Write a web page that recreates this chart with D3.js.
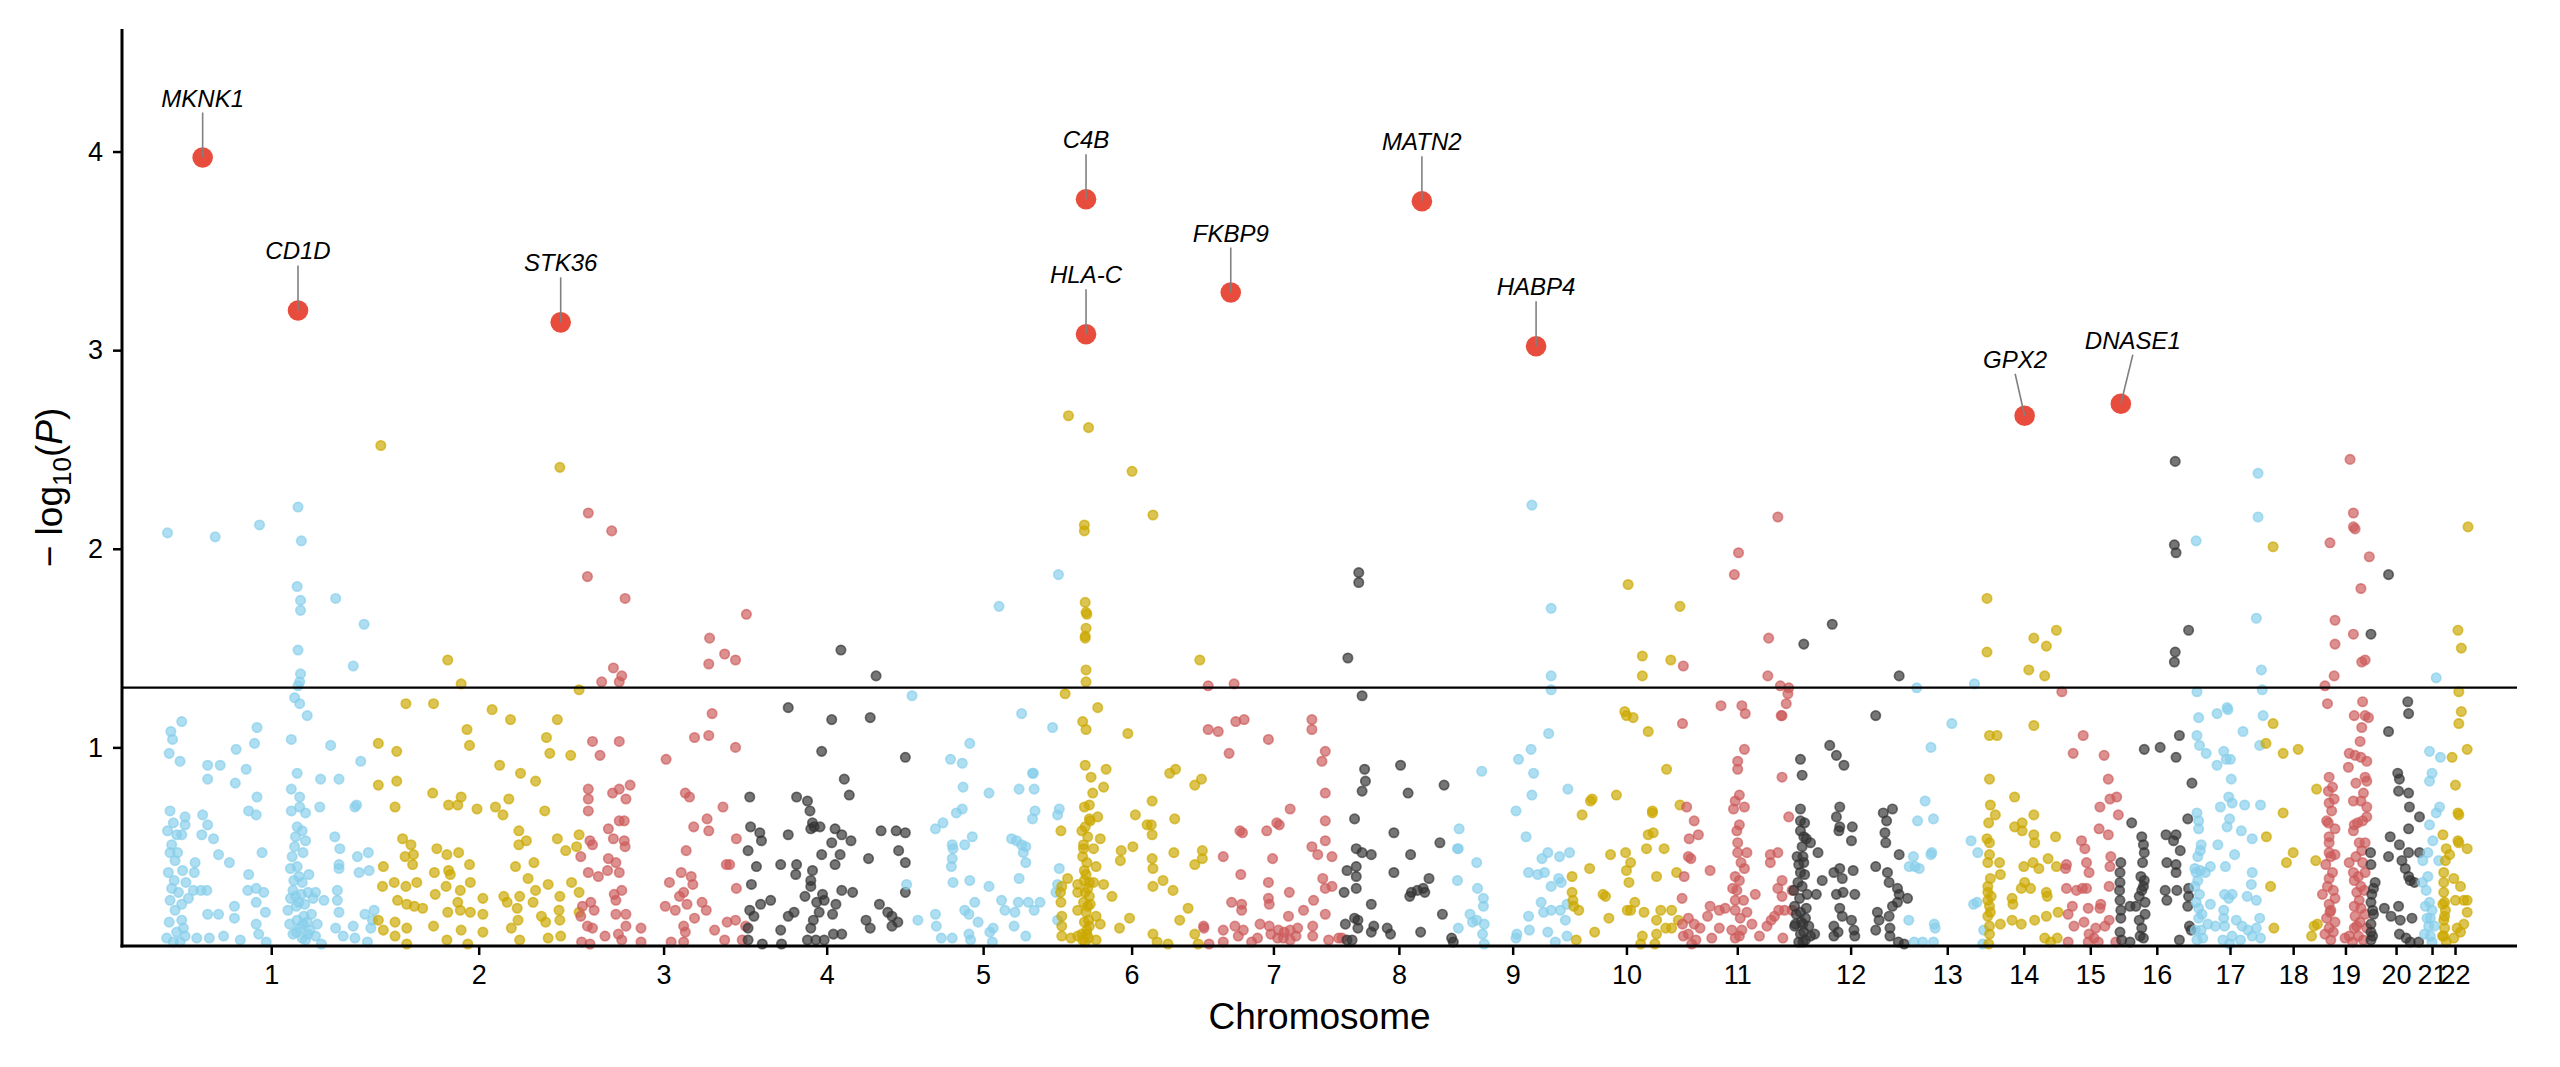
<!DOCTYPE html>
<html>
<head>
<meta charset="utf-8">
<script src="https://cdn.jsdelivr.net/npm/d3@7"></script>
<style>
body { margin: 0; background: #fff; }
text { font-family: "Liberation Sans", Arial, Helvetica, sans-serif; }
</style>
</head>
<body>
<svg id="chart" width="2560" height="1067"></svg>
<script>
// chromosome names and plotted span (Mb)
var chrNames = ["1","2","3","4","5","6","7","8","9","10","11","12","13","14","15","16","17","18","19","20","21","22"];
var chrLength = [254, 242, 200, 190, 184, 171, 168, 132, 140, 132, 133, 138, 93, 90, 69, 90, 85, 66, 59, 62, 24, 31];

// [position in chromosome (Mb), -log10(P)]
var chr1 = [[3,2.08],[60,2.06],[113,2.12],[159,2.21],[163,2.04],
[158,1.81],[162,1.74],[162,1.69],[204,1.75],[238,1.62],[159,1.49],[225,1.41],[162,1.37],[161,1.33],[159,1.31],[155,1.25],[161,1.22],[170,1.16],
[20,1.13],[7,1.08],[9,1.04],[5,0.97],[18,0.93],[110,1.10],[107,1.02],[85,0.99],[51,0.91],[66,0.91],[97,0.89],[51,0.84],[84,0.82],[110,0.75],[151,1.04],[198,1.01],[234,0.93],[158,0.87],[186,0.84],[208,0.84],[151,0.79],[161,0.75],[229,0.71],[227,0.70],
[6,0.68],[24,0.65],[45,0.66],[51,0.61],[100,0.68],[109,0.66],[151,0.68],[161,0.70],[168,0.67],[185,0.70],[158,0.60],[24,0.61],[20,0.56],[44,0.56],[58,0.54],[8,0.51],[6,0.47],[15,0.47],[12,0.43],[21,0.38],[36,0.42],[35,0.37],[64,0.46],[77,0.42],[116,0.47],[100,0.36],[155,0.50],[168,0.53],[165,0.47],[203,0.55],[209,0.49],[230,0.45],[243,0.47],[208,0.41],[208,0.39],[232,0.37],[244,0.38],[150,0.39],[158,0.40],
[8,0.29],[6,0.23],[20,0.21],[34,0.28],[43,0.28],[50,0.28],[99,0.28],[109,0.29],[118,0.27],[83,0.20],[51,0.16],[64,0.16],[83,0.14],[109,0.22],[120,0.17],[153,0.28],[164,0.32],[171,0.27],[180,0.27],[190,0.23],[147,0.18],[157,0.20],[166,0.15],[175,0.16],[182,0.11],[206,0.28],[206,0.23],[208,0.17],[239,0.16],[250,0.18],[246,0.09],[248,0.13],[20,0.13],[22,0.09],[24,0.05],[38,0.04],[53,0.04],[70,0.05],[90,0.03],[109,0.11],[112,0.06],[121,0.02],[149,0.11],[157,0.07],[164,0.04],[171,0.06],[187,0.01],[204,0.09],[213,0.05],[225,0.10],[227,0.04],[242,0.02],[10,0.02],
[152,0.45],[154,0.33],[156,0.25],[160,0.22],[163,0.26],[167,0.21],[158,0.13],[161,0.09],[165,0.11],[168,0.03],[153,0.06],[170,0.12],[160,0.35],[156,0.55],[164,0.58],[172,0.36],[177,0.24],[173,0.08],[150,0.24],[180,0.05],
[3,0.58],[10,0.62],[14,0.56],[4,0.37],[11,0.33],[16,0.27],[12,0.18],[5,0.12],[14,0.07],[2,0.04],[18,0.02],[25,0.32],[28,0.24]];
var chr2 = [[4,2.52],[218,2.41],
[84,1.44],[100,1.32],[241,1.29],[34,1.22],[67,1.22],[137,1.19],[159,1.14],[215,1.14],[107,1.09],[110,1.01],[202,1.05],[206,0.97],[231,0.96],[1,1.02],[23,0.98],[146,0.91],[171,0.87],[189,0.83],[1,0.81],[23,0.83],[66,0.77],[85,0.71],[100,0.75],[96,0.71],[119,0.69],[141,0.70],[157,0.74],[150,0.66],[200,0.68],[21,0.70],
[30,0.54],[40,0.51],[43,0.46],[33,0.45],[42,0.41],[7,0.40],[71,0.49],[83,0.46],[97,0.47],[110,0.41],[68,0.37],[85,0.38],[87,0.36],[169,0.58],[169,0.51],[178,0.53],[165,0.40],[187,0.42],[215,0.54],[241,0.56],[238,0.50],[225,0.48],
[6,0.30],[20,0.32],[34,0.30],[47,0.32],[24,0.23],[35,0.21],[44,0.20],[54,0.19],[1,0.13],[21,0.12],[21,0.05],[35,0.09],[7,0.08],[69,0.26],[82,0.30],[99,0.28],[111,0.32],[96,0.22],[84,0.17],[99,0.18],[111,0.17],[126,0.24],[126,0.16],[67,0.10],[83,0.03],[100,0.08],[126,0.07],[151,0.25],[155,0.22],[170,0.25],[180,0.34],[189,0.28],[186,0.22],[167,0.19],[168,0.13],[160,0.09],[196,0.15],[201,0.12],[204,0.31],[218,0.25],[217,0.18],[218,0.13],[204,0.04],[219,0.05],[232,0.32],[241,0.27],[241,0.17],[170,0.03],[108,0.01],[35,0.01]];
var chr3 = [[10,2.18],[38,2.09],[9,1.86],[54,1.75],[155,1.55],[173,1.47],[186,1.44],[154,1.42],[40,1.40],[50,1.36],[47,1.33],[26,1.33],[199,1.67],
[158,1.17],[137,1.05],[154,1.06],[186,1.00],[15,1.03],[47,1.03],[24,0.96],[103,0.94],[10,0.79],[10,0.74],[10,0.68],[39,0.77],[47,0.79],[60,0.81],[55,0.74],[126,0.77],[131,0.75],[171,0.70],[152,0.64],[154,0.58],[136,0.60],[187,0.54],[47,0.63],[53,0.63],[34,0.59],[40,0.54],[53,0.53],[54,0.50],[12,0.53],[15,0.51],[1,0.45],[34,0.44],[43,0.42],[33,0.38],[10,0.37],[22,0.35],[47,0.37],[127,0.48],[175,0.41],[187,0.29],[121,0.37],[133,0.35],[107,0.32],[135,0.31],[124,0.27],[119,0.25],[102,0.20],[114,0.18],[128,0.21],[146,0.22],[151,0.18],[137,0.14],[124,0.10],[161,0.08],[176,0.12],[126,0.07],[109,0.02],[124,0.02],[173,0.03],[41,0.26],[43,0.23],[50,0.28],[3,0.20],[13,0.22],[17,0.18],[1,0.15],[43,0.16],[55,0.16],[55,0.10],[9,0.10],[15,0.09],[30,0.05],[46,0.06],[50,0.03],[73,0.09],[73,0.02],[12,0.01],[2,0.02],[179,0.41],[186,0.13],[198,0.10],[194,0.03]];
var chr4 = [[112,1.49],[154,1.36],[49,1.20],[101,1.14],[147,1.15],[89,0.98],[189,0.95],[116,0.84],[122,0.76],[3,0.75],[59,0.75],[72,0.73],[75,0.68],[78,0.62],[80,0.60],[87,0.60],[76,0.59],[105,0.59],[113,0.56],[124,0.53],[160,0.58],[178,0.58],[189,0.57],[4,0.60],[15,0.57],[17,0.53],[49,0.56],[1,0.48],[101,0.52],[89,0.46],[111,0.46],[105,0.41],[145,0.44],[181,0.48],[189,0.42],[11,0.40],[40,0.41],[59,0.41],[58,0.36],[78,0.38],[76,0.33],[76,0.30],[5,0.31],[28,0.23],[16,0.21],[3,0.18],[8,0.15],[69,0.25],[83,0.22],[90,0.26],[92,0.23],[86,0.17],[79,0.13],[76,0.09],[56,0.17],[49,0.15],[40,0.08],[41,0.01],[102,0.16],[106,0.21],[113,0.28],[126,0.27],[103,0.06],[113,0.06],[72,0.03],[82,0.03],[92,0.03],[142,0.13],[147,0.09],[158,0.21],[168,0.17],[173,0.15],[173,0.10],[180,0.12],[189,0.27],[18,0.01],[1,0.09],[1,0.03]];
var chr5 = [[182,1.87],[111,1.71],[7,1.26],[138,1.17],[175,1.10],[76,1.02],[53,0.94],[67,0.92],[151,0.87],[152,0.87],[68,0.80],[99,0.77],[135,0.79],[153,0.79],[67,0.69],[60,0.67],[154,0.68],[151,0.64],[183,0.69],[181,0.66],[44,0.62],[35,0.59],[55,0.51],[70,0.51],[79,0.55],[56,0.49],[126,0.54],[132,0.53],[138,0.51],[143,0.50],[140,0.47],[143,0.42],[55,0.44],[54,0.40],[183,0.39],[56,0.32],[76,0.33],[99,0.30],[135,0.34],[181,0.31],[179,0.27],[0.5,0.31],[82,0.22],[70,0.18],[75,0.16],[86,0.12],[114,0.23],[118,0.18],[130,0.17],[134,0.22],[146,0.22],[160,0.22],[153,0.18],[35,0.16],[36,0.10],[14,0.13],[42,0.04],[55,0.04],[75,0.06],[77,0.03],[100,0.07],[104,0.09],[103,0.02],[129,0.10],[143,0.05],[181,0.13]];
var chr6 = [[10,2.67],[34,2.61],[86,2.39],[111,2.17],[29,2.12],[29,2.09],
[30,1.73],[31,1.68],[32,1.67],[31,1.60],[30,1.56],[30,1.55],[31,1.39],[31,1.33],[167,1.44],[6,1.27],[45,1.20],[27,1.13],[31,1.09],[81,1.07],[30,0.91],[37,0.85],[55,0.89],[52,0.80],[39,0.77],[131,0.87],[138,0.89],[169,0.84],[161,0.81],[29,0.70],[35,0.71],[35,0.64],[45,0.65],[36,0.63],[90,0.66],[110,0.73],[104,0.61],[109,0.61],[110,0.56],[137,0.64],[1,0.58],[48,0.54],[28,0.51],[28,0.49],[40,0.49],[73,0.48],[87,0.50],[72,0.43],[110,0.44],[111,0.39],[136,0.47],[170,0.48],[170,0.44],[161,0.41],[32,0.42],[43,0.40],[21,0.31],[29,0.33],[35,0.32],[40,0.32],[52,0.31],[9,0.34],[2,0.30],[0.5,0.27],[21,0.27],[30,0.27],[35,0.25],[62,0.25],[111,0.30],[123,0.33],[135,0.28],[153,0.19],[143,0.13],[83,0.14],[71,0.09],[21,0.18],[33,0.20],[43,0.15],[48,0.11],[35,0.10],[26,0.06],[1,0.22],[2,0.15],[2,0.10],[2,0.05],[13,0.04],[21,0.05],[32,0.06],[43,0.03],[111,0.06],[116,0.02],[129,0.01],[161,0.06],[165,0.01],
[27,0.45],[29,0.38],[31,0.36],[33,0.29],[28,0.22],[31,0.17],[34,0.13],[29,0.12],[32,0.08],[27,0.03],[30,0.02],[34,0.04],[36,0.21],[26,0.58],[33,0.55],[30,0.60]];
var chr7 = [[6,1.31],[37,1.32],[39,1.13],[49,1.14],[6,1.09],[18,1.08],[31,0.97],[78,1.04],[130,1.14],[130,1.09],[146,0.98],[142,0.93],[146,0.77],[104,0.69],[88,0.62],[91,0.61],[146,0.63],[44,0.58],[47,0.57],[76,0.58],[146,0.53],[130,0.50],[137,0.46],[154,0.45],[24,0.45],[83,0.44],[45,0.36],[143,0.34],[146,0.29],[154,0.30],[78,0.32],[103,0.27],[34,0.22],[46,0.21],[46,0.18],[78,0.24],[79,0.21],[120,0.18],[132,0.23],[146,0.16],[102,0.15],[68,0.11],[79,0.10],[90,0.08],[97,0.07],[104,0.08],[113,0.09],[131,0.10],[131,0.05],[0.5,0.10],[1,0.09],[24,0.08],[38,0.10],[48,0.08],[42,0.05],[65,0.04],[58,0.02],[81,0.06],[89,0.04],[96,0.04],[104,0.03],[111,0.05],[24,0.02],[7,0.01],[150,0.03],[162,0.04],[166,0.04]];
var chr8 = [[5,1.45],[18,1.88],[18,1.83],[22,1.26],[25,0.89],[26,0.83],[22,0.78],[68,0.91],[77,0.77],[120,0.81],[13,0.64],[60,0.57],[115,0.52],[15,0.49],[22,0.47],[33,0.46],[80,0.46],[4,0.38],[15,0.40],[15,0.35],[15,0.29],[60,0.37],[102,0.34],[95,0.29],[88,0.28],[81,0.27],[79,0.25],[97,0.27],[0.5,0.27],[33,0.21],[118,0.16],[13,0.14],[17,0.13],[17,0.09],[36,0.10],[33,0.07],[52,0.09],[56,0.06],[92,0.07],[129,0.04],[131,0.02],[10,0.03],[4,0.03],[2,0.11]];
var chr9 = [[93,2.22],[116,1.70],[116,1.36],[116,1.29],[113,1.07],[77,0.94],[92,0.99],[95,0.87],[33,0.88],[93,0.76],[136,0.79],[74,0.68],[86,0.55],[6,0.59],[4,0.49],[5,0.49],[27,0.42],[4,0.33],[28,0.29],[35,0.24],[35,0.20],[112,0.47],[105,0.44],[126,0.45],[138,0.47],[89,0.37],[100,0.36],[108,0.37],[125,0.34],[116,0.30],[128,0.32],[104,0.22],[107,0.17],[116,0.18],[127,0.18],[135,0.21],[133,0.13],[112,0.07],[121,0.02],[135,0.05],[89,0.15],[90,0.08],[75,0.06],[74,0.04],[19,0.16],[22,0.12],[27,0.13],[5,0.09],[36,0.11],[34,0.06],[36,0.01]];
var chr10 = [[68,1.82],[130,1.71],[85,1.46],[85,1.36],[119,1.44],[64,1.18],[66,1.16],[74,1.15],[92,1.08],[114,0.89],[25,0.74],[23,0.73],[54,0.76],[13,0.66],[97,0.68],[97,0.67],[92,0.56],[98,0.57],[90,0.49],[111,0.49],[130,0.71],[47,0.46],[65,0.47],[71,0.42],[66,0.38],[69,0.32],[102,0.35],[126,0.37],[22,0.39],[1,0.35],[1,0.27],[2,0.23],[3,0.20],[9,0.18],[38,0.26],[41,0.25],[45,0.14],[28,0.07],[67,0.18],[71,0.18],[76,0.22],[87,0.17],[107,0.18],[120,0.18],[102,0.13],[113,0.09],[120,0.09],[102,0.06],[85,0.05],[100,0.01],[6,0.03],[83,0.01],[128,0.13]];
var chr11 = [[115,2.16],[68,1.98],[63,1.87],[104,1.55],[2,1.41],[103,1.36],[118,1.31],[128,1.30],[127,1.27],[125,1.22],[119,1.16],[120,1.16],[47,1.21],[72,1.21],[76,1.17],[1,1.12],[75,0.99],[67,0.93],[67,0.89],[120,0.85],[69,0.76],[64,0.73],[75,0.70],[62,0.69],[69,0.61],[128,0.65],[6,0.70],[15,0.63],[20,0.56],[9,0.54],[67,0.52],[67,0.47],[78,0.47],[115,0.47],[106,0.46],[106,0.42],[8,0.45],[11,0.44],[34,0.38],[75,0.39],[64,0.35],[69,0.33],[61,0.29],[120,0.33],[115,0.29],[120,0.25],[132,0.28],[3,0.35],[0.5,0.24],[88,0.26],[64,0.23],[74,0.23],[34,0.20],[45,0.18],[52,0.19],[64,0.18],[78,0.17],[116,0.18],[123,0.18],[132,0.18],[8,0.14],[15,0.11],[22,0.09],[31,0.15],[45,0.09],[60,0.08],[84,0.11],[102,0.10],[107,0.13],[111,0.15],[121,0.04],[93,0.05],[69,0.05],[64,0.04],[36,0.04],[17,0.03],[2,0.05],[1,0.11],[8,0.06],[12,0.01],
[66,0.28],[70,0.14],[72,0.08],[66,0.58],[71,0.42]];
var chr12 = [[47,1.62],[13,1.52],[127,1.36],[99,1.16],[44,1.01],[52,0.96],[61,0.91],[9,0.94],[11,0.86],[9,0.69],[9,0.63],[9,0.58],[13,0.55],[16,0.54],[11,0.50],[21,0.52],[30,0.47],[12,0.45],[13,0.42],[7,0.41],[9,0.37],[56,0.70],[52,0.65],[56,0.60],[55,0.58],[71,0.60],[70,0.53],[108,0.67],[119,0.69],[112,0.63],[110,0.57],[111,0.52],[127,0.46],[99,0.40],[113,0.37],[115,0.32],[125,0.29],[127,0.26],[137,0.24],[125,0.22],[119,0.20],[49,0.37],[56,0.39],[59,0.34],[72,0.38],[35,0.33],[28,0.26],[52,0.26],[60,0.27],[74,0.26],[56,0.19],[59,0.15],[49,0.10],[54,0.07],[49,0.05],[70,0.13],[73,0.08],[74,0.05],[101,0.17],[103,0.13],[99,0.08],[115,0.15],[116,0.09],[116,0.05],[126,0.02],[133,0.01],[2,0.20],[4,0.16],[9,0.17],[16,0.19],[2,0.10],[12,0.11],[9,0.06],[19,0.10],[21,0.05],[12,0.02],[26,0.06],[1,0.28],[3,0.11],[15,0.14],
[6,0.32],[8,0.24],[11,0.30],[14,0.36],[10,0.12],[13,0.07],[7,0.02],[15,0.03],[17,0.26],[5,0.45],[14,0.62]];
var chr13 = [[10,1.30],[52,1.12],[79,1.32],[27,1.00],[20,0.73],[11,0.63],[30,0.64],[6,0.45],[13,0.39],[1,0.40],[8,0.40],[28,0.47],[27,0.46],[0.5,0.13],[31,0.11],[32,0.09],[7,0.02],[17,0.02],[30,0.02],[75,0.53],[83,0.47],[78,0.21],[82,0.22],[90,0.08],[89,0.01]];
var chr14 = [[1,1.75],[1,1.48],[57,1.55],[72,1.51],[84,1.59],[51,1.39],[70,1.36],[57,1.11],[4,1.06],[13,1.06],[4,0.84],[34,0.75],[5,0.71],[11,0.66],[57,0.66],[34,0.60],[43,0.62],[43,0.58],[57,0.56],[58,0.52],[83,0.55],[1,0.54],[4,0.52],[4,0.46],[2,0.42],[16,0.42],[17,0.36],[5,0.34],[2,0.27],[2,0.23],[4,0.20],[2,0.15],[4,0.10],[4,0.06],[17,0.11],[45,0.40],[56,0.42],[63,0.39],[74,0.44],[84,0.40],[46,0.32],[42,0.29],[53,0.29],[31,0.24],[32,0.21],[31,0.13],[42,0.11],[58,0.13],[72,0.15],[86,0.17],[70,0.04],[85,0.04],[77,0.02],[72,0.27],[73,0.25],
[3,0.62],[2,0.30],[5,0.17],[3,0.01],[6,0.25]];
var chr15 = [[0.5,1.28],[26,1.06],[14,0.97],[51,0.96],[56,0.84],[58,0.74],[66,0.75],[46,0.70],[68,0.66],[45,0.59],[56,0.56],[24,0.53],[28,0.49],[6,0.41],[5,0.39],[30,0.42],[33,0.37],[59,0.45],[58,0.40],[6,0.29],[18,0.28],[25,0.29],[30,0.29],[57,0.30],[13,0.20],[8,0.16],[15,0.10],[27,0.12],[32,0.19],[47,0.21],[46,0.19],[57,0.13],[33,0.06],[41,0.09],[52,0.10],[39,0.04],[44,0.02],[32,0.02],[8,0.02],[65,0.02]];
var chr16 = [[67,2.44],[66,2.02],[68,1.98],[83,1.59],[67,1.48],[66,1.43],[72,1.06],[30,0.99],[49,1.00],[68,0.95],[87,0.82],[15,0.62],[27,0.55],[29,0.51],[30,0.47],[56,0.56],[68,0.56],[65,0.53],[73,0.48],[82,0.64],[57,0.42],[68,0.41],[68,0.37],[1,0.32],[0.5,0.28],[1,0.23],[2,0.18],[2,0.14],[1,0.07],[13,0.20],[20,0.20],[24,0.25],[29,0.30],[30,0.33],[27,0.28],[31,0.22],[24,0.13],[27,0.09],[13,0.02],[55,0.28],[57,0.23],[69,0.28],[83,0.29],[83,0.25],[82,0.20],[84,0.10],[86,0.08],[72,0.03],
[2,0.42],[1,0.37],[3,0.03],[26,0.35],[28,0.42],[31,0.16],[25,0.05],[29,0.04]];
var chr17 = [[76,2.38],[76,2.16],[2,2.04],[74,1.65],[80,1.39],[81,1.29],[3,1.28],[5,1.15],[27,1.17],[39,1.20],[40,1.19],[58,1.08],[82,1.16],[78,1.01],[3,1.06],[6,1.01],[14,0.97],[35,0.98],[38,0.94],[43,0.94],[27,0.91],[44,0.84],[41,0.75],[45,0.72],[60,0.71],[79,0.71],[31,0.70],[3,0.67],[5,0.63],[5,0.59],[42,0.64],[39,0.60],[56,0.58],[69,0.54],[28,0.51],[8,0.51],[7,0.48],[48,0.46],[0.5,0.39],[2,0.37],[7,0.38],[19,0.40],[13,0.37],[37,0.40],[69,0.37],[68,0.31],[0.5,0.30],[4,0.33],[36,0.26],[45,0.26],[41,0.24],[63,0.25],[74,0.23],[5,0.19],[19,0.21],[35,0.18],[35,0.14],[5,0.14],[16,0.11],[8,0.08],[25,0.10],[36,0.10],[50,0.13],[57,0.10],[78,0.14],[74,0.09],[64,0.08],[69,0.05],[79,0.04],[3,0.03],[34,0.03],[45,0.05],[42,0.01],[55,0.03],
[2,0.22],[4,0.45],[6,0.26],[9,0.16],[1,0.08],[10,0.04]];
var chr18 = [[9,2.01],[9,1.12],[0.5,1.02],[21,0.97],[39,0.99],[21,0.67],[1,0.55],[33,0.47],[25,0.42],[6,0.30],[10,0.09],[61,0.79],[60,0.43],[58,0.10],[55,0.05],[62,0.11]];
var chr19 = [[35,2.45],[39,2.18],[39,2.11],[41,2.10],[11,2.03],[58,1.96],[48,1.80],[17,1.64],[39,1.57],[17,1.52],[49,1.43],[53,1.44],[16,1.36],[5,1.31],[8,1.22],[50,1.23],[40,1.16],[53,1.16],[57,1.15],[49,1.10],[47,1.03],[34,0.97],[41,0.96],[48,0.95],[55,0.93],[33,0.90],[10,0.85],[53,0.85],[55,0.83],[51,0.77],[16,0.74],[10,0.72],[39,0.73],[48,0.73],[13,0.68],[55,0.70],[55,0.65],[7,0.63],[17,0.59],[40,0.61],[39,0.58],[50,0.63],[10,0.55],[10,0.52],[10,0.47],[17,0.46],[46,0.52],[53,0.52],[6,0.41],[14,0.37],[10,0.34],[34,0.42],[39,0.37],[50,0.42],[53,0.37],[40,0.33],[48,0.30],[2,0.26],[15,0.28],[17,0.24],[10,0.21],[12,0.18],[7,0.14],[17,0.12],[10,0.09],[5,0.06],[12,0.03],[43,0.27],[46,0.23],[40,0.20],[48,0.19],[41,0.15],[47,0.12],[40,0.09],[45,0.05],[29,0.04],[34,0.05],[53,0.16],[55,0.09],[51,0.03],
[8,0.30],[12,0.45],[9,0.62],[14,0.80],[11,0.17],[15,0.07],[42,0.45],[44,0.62],[42,0.82],[45,0.35],[43,0.10],[38,0.02],[49,0.48],[52,0.28],[9,0.78]];
var chr20 = [[22,1.87],[1,1.57],[45,1.23],[46,1.17],[22,1.08],[33,0.87],[35,0.84],[34,0.78],[46,0.77],[47,0.70],[59,0.65],[46,0.59],[24,0.55],[0.5,0.47],[35,0.51],[46,0.47],[59,0.47],[22,0.45],[38,0.43],[42,0.39],[46,0.35],[48,0.33],[53,0.32],[1,0.41],[6,0.32],[4,0.29],[1,0.22],[4,0.16],[1,0.11],[1,0.07],[1,0.03],[17,0.19],[25,0.15],[34,0.20],[36,0.13],[50,0.14],[35,0.06],[43,0.04],[48,0.02],[58,0.02],
[2,0.26],[3,0.05],[3,0.18]];
var chr21 = [[17,1.35],[9,0.98],[22,0.95],[12,0.87],[9,0.83],[21,0.70],[17,0.67],[9,0.61],[13,0.53],[7,0.47],[1,0.43],[20,0.43],[0.5,0.32],[5,0.28],[9,0.22],[12,0.18],[10,0.14],[8,0.10],[15,0.10],[3,0.06],[12,0.02],
[4,0.20],[7,0.35],[10,0.05],[6,0.14]];
var chr22 = [[31,2.11],[19,1.59],[23,1.50],[20,1.28],[23,1.18],[20,1.12],[30,0.99],[12,0.95],[16,0.81],[19,0.67],[20,0.66],[1,0.56],[5,0.49],[9,0.46],[19,0.53],[20,0.52],[30,0.49],[2,0.37],[14,0.34],[22,0.30],[2,0.27],[3,0.22],[4,0.18],[2,0.13],[3,0.09],[2,0.05],[16,0.23],[26,0.23],[30,0.23],[30,0.17],[18,0.09],[26,0.11],[22,0.07],[14,0.04],[0.5,0.05],
[2,0.32],[4,0.43],[3,0.15],[5,0.02],[1,0.21]];

// highlighted genes
var hitGene = ["MKNK1","CD1D","STK36","C4B","HLA-C","FKBP9","MATN2","HABP4","GPX2","DNASE1"];
var hitChr = [1, 1, 2, 6, 6, 7, 8, 9, 14, 16];
var hitPos = [45, 159, 219, 31, 31, 33, 93.5, 98, 46, 2];
var hitLogP = [3.97, 3.20, 3.14, 3.76, 3.08, 3.29, 3.75, 3.02, 2.67, 2.73];

var yTicks = [1, 2, 3, 4];
var threshold = -Math.log10(0.05);

// ---------------------------------------------------------------
var chrPoints = [chr1,chr2,chr3,chr4,chr5,chr6,chr7,chr8,chr9,chr10,chr11,
                 chr12,chr13,chr14,chr15,chr16,chr17,chr18,chr19,chr20,chr21,chr22];
var chrColor = ["#87CEEB", "#CCA800", "#CD5C5C", "#333333"];

// cumulative offsets
var offset = [];
var total = 0;
for (var i = 0; i < chrLength.length; i++) {
	offset.push(total);
	total += chrLength[i];
}
var centers = chrLength.map(function(l, i) { return offset[i] + l / 2; });

var snps = [];
chrPoints.forEach(function(arr, i) {
	arr.forEach(function(d) {
		snps.push({ chr: i, bp: offset[i] + d[0], logp: d[1] });
	});
});

var hits = hitGene.map(function(g, i) {
	return { gene: g, bp: offset[hitChr[i] - 1] + hitPos[i], logp: hitLogP[i] };
});

// layout (note: "top" is taken by window.top, so use other names)
var plotLeft = 122, plotRight = 2517, plotTop = 29, plotBottom = 946;
var svg = d3.select("#chart");

var x = d3.scaleLinear().domain([0, total]).range([165, 2468]);
var y = d3.scaleLinear().domain([0, 4.617]).range([plotBottom, plotTop]);

// points: translucent fill + translucent outline of the same colour
svg.append("g")
	.selectAll("circle")
	.data(snps)
	.enter().append("circle")
	.attr("cx", function(d) { return x(d.bp); })
	.attr("cy", function(d) { return y(d.logp); })
	.attr("r", 4.7)
	.attr("fill", function(d) { return chrColor[d.chr % 4]; })
	.attr("fill-opacity", 0.68)
	.attr("stroke", function(d) { return chrColor[d.chr % 4]; })
	.attr("stroke-opacity", 0.68)
	.attr("stroke-width", 1.7);

// significance line
svg.append("line")
	.attr("x1", plotLeft).attr("x2", plotRight)
	.attr("y1", y(threshold)).attr("y2", y(threshold))
	.attr("stroke", "#000").attr("stroke-width", 2.3);

// axes
var xAxis = d3.axisBottom(x)
	.tickValues(centers)
	.tickFormat(function(d, i) { return chrNames[i]; })
	.tickSize(9).tickPadding(10);
var gx = svg.append("g").attr("transform", "translate(0," + plotBottom + ")").call(xAxis);

var yAxis = d3.axisLeft(y).tickValues(yTicks).tickFormat(d3.format("d"))
	.tickSize(9).tickPadding(10);
var gy = svg.append("g").attr("transform", "translate(" + plotLeft + ",0)").call(yAxis);

[gx, gy].forEach(function(g) {
	g.select(".domain").remove();
	g.selectAll(".tick line").attr("stroke", "#000").attr("stroke-width", 2.5);
	g.selectAll(".tick text")
		.attr("fill", "#000")
		.style("font-size", "27px")
		.style("font-family", '"Liberation Sans", Arial, sans-serif');
});

svg.append("line")
	.attr("x1", plotLeft).attr("x2", plotLeft)
	.attr("y1", plotTop).attr("y2", plotBottom + 1.5)
	.attr("stroke", "#000").attr("stroke-width", 3);
svg.append("line")
	.attr("x1", plotLeft - 1.5).attr("x2", plotRight)
	.attr("y1", plotBottom).attr("y2", plotBottom)
	.attr("stroke", "#000").attr("stroke-width", 3);

// highlighted genes
var labelNudge = { "GPX2": [-9.5, -48], "DNASE1": [12, -55] };

var hitG = svg.append("g");
hitG.selectAll("circle")
	.data(hits)
	.enter().append("circle")
	.attr("cx", function(d) { return x(d.bp); })
	.attr("cy", function(d) { return y(d.logp); })
	.attr("r", 10.3)
	.attr("fill", "#E74C3C");

hits.forEach(function(d) {
	var n = labelNudge[d.gene] || [0, -51];
	var cx = x(d.bp), cy = y(d.logp);
	hitG.append("line")
		.attr("x1", cx).attr("y1", cy)
		.attr("x2", cx + n[0]).attr("y2", cy + n[1] + 6)
		.attr("stroke", "#808080").attr("stroke-width", 1.6);
	hitG.append("text")
		.attr("x", cx + n[0]).attr("y", cy + n[1])
		.attr("text-anchor", "middle")
		.style("font-size", "24px")
		.style("font-style", "italic")
		.text(d.gene);
});

// axis titles
svg.append("text")
	.attr("x", (plotLeft + plotRight) / 2).attr("y", 1029)
	.attr("text-anchor", "middle")
	.style("font-size", "37px")
	.text("Chromosome");

var yt = svg.append("text")
	.attr("transform", "translate(62," + ((plotTop + plotBottom) / 2) + ") rotate(-90)")
	.attr("text-anchor", "middle")
	.style("font-size", "37px");
yt.append("tspan").text("\u2212 log");
yt.append("tspan").attr("dy", 9).style("font-size", "26px").text("10");
yt.append("tspan").attr("dy", -9).text("(");
yt.append("tspan").style("font-style", "italic").text("P");
yt.append("tspan").text(")");
</script>
</body>
</html>
